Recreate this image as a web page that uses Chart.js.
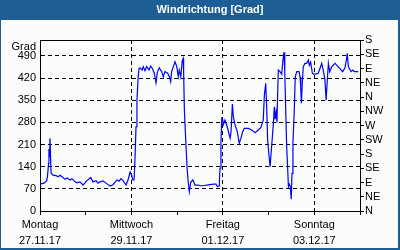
<!DOCTYPE html>
<html>
<head>
<meta charset="utf-8">
<title>Windrichtung</title>
<script src="https://cdn.jsdelivr.net/npm/chart.js@4/dist/chart.umd.min.js"></script>
<style>
    html, body { margin: 0; padding: 0; background: #fbfdfb; }
    #wrap { width: 400px; height: 250px; }
</style>
</head>
<body>
<div id="wrap"><canvas id="windChart" width="400" height="250"></canvas></div>
<script>
const chartTitle = 'Windrichtung [Grad]';
const unitLabel = 'Grad';

// hours since Montag 27.11.17 00:00
const hours = [
    0, 2.1, 3.5, 3.9, 4.5, 4.7, 5.0, 5.25, 5.8, 6.8, 8.4, 9.5, 10.5, 11.6, 13.1, 14.2, 15.8, 16.8, 17.9, 19.3,
    21, 22.6, 24.5, 26.6, 27.8, 29.4, 30.5, 31.5, 33.1, 34.7, 36.8, 38.3, 40.4, 41.5, 42.5, 43.6, 45.2, 46.2, 47.3, 48.1,
    48.7, 49.4, 49.9, 50.4, 50.9, 51.5, 52, 52.5, 53.6, 54.2, 55.1, 56, 57.2, 58.1, 59, 60, 60.9, 61.6, 62.6, 63.9,
    64.7, 65.6, 67, 67.9, 68.6, 69.1, 70, 70.9, 71.8, 72.6, 73.1, 73.9, 74.7, 75.2, 75.4, 75.8, 76.5, 77.2, 77.9, 78.4,
    79.1, 80.2, 81, 81.4, 83.1, 84.9, 87.5, 91, 92.4, 93.1, 94.1, 94.5, 95, 95.4, 95.9, 96.2, 97.1, 98.3, 99.8, 100.3,
    101, 101.5, 102.4, 103.6, 104.6, 105.5, 106.4, 107.3, 109.4, 111.1, 112.4, 112.9, 114.6, 116, 117.2, 117.8, 118.5, 119, 119.5, 120.2,
    120.8, 121.3, 122, 122.7, 123, 123.4, 123.9, 124.4, 125.1, 126, 126.9, 127.6, 128.1, 128.5, 129, 129.5, 130, 130.4, 130.9, 131.4,
    131.9, 132.3, 132.8, 133.5, 134, 134.8, 136, 136.5, 136.9, 137.2, 137.6, 138.2, 139.1, 140, 140.9, 141.4, 142.1, 143, 143.6, 144.4,
    146.1, 147.9, 148.7, 149.6, 150.2, 150.7, 151.4, 152.1, 153.1, 154.9, 156.6, 158.9, 160.1, 161, 161.3, 161.9, 163.3, 164.2, 165, 166.3,
    167.1
];

const degrees = [
    85, 88, 95, 108, 150, 196, 170, 230, 120, 113, 112, 108, 113, 108, 100, 104, 98, 102, 95, 89,
    92, 82, 95, 106, 92, 96, 88, 92, 95, 88, 79, 83, 98, 94, 102, 96, 82, 98, 123, 113,
    98, 98, 170, 266, 350, 419, 450, 452, 445, 456, 443, 456, 445, 458, 450, 435, 405, 438, 452, 440,
    424, 440, 435, 425, 408, 440, 456, 471, 456, 424, 445, 424, 475, 482, 440, 319, 224, 136, 87, 61,
    90, 98, 88, 82, 82, 79, 82, 85, 85, 77, 79, 135, 214, 293, 290, 272, 287, 266, 230, 250,
    338, 298, 272, 250, 214, 230, 250, 261, 261, 256, 250, 247, 256, 264, 287, 366, 403, 330, 224, 177,
    140, 180, 235, 290, 329, 290, 314, 280, 445, 440, 432, 480, 501, 440, 320, 203, 140, 77, 85, 77,
    37, 119, 214, 319, 424, 440, 440, 424, 390, 340, 390, 456, 466, 466, 477, 460, 470, 435, 432, 432,
    435, 466, 445, 414, 350, 400, 466, 440, 455, 466, 455, 440, 452, 482, 498, 455, 440, 445, 440, 440,
    440
];

const dayNames = ['Montag', 'Dienstag', 'Mittwoch', 'Donnerstag', 'Freitag', 'Samstag', 'Sonntag', 'Montag'];
const dayDates = ['27.11.17', '28.11.17', '29.11.17', '30.11.17', '01.12.17', '02.12.17', '03.12.17', '04.12.17'];
const gradTicks = [0, 70, 140, 210, 280, 350, 420, 490];
const compassTicks = ['N', 'NE', 'E', 'SE', 'S', 'SW', 'W', 'NW', 'N', 'NE', 'E', 'SE', 'S'];

const barColor = '#1d5e94';
const lineColor = '#0000ff';
const fontFamily = '"Liberation Sans", Arial, sans-serif';

const framePlugin = {
    id: 'frame',
    beforeDraw(chart) {
        const ctx = chart.ctx;
        ctx.save();
        ctx.fillStyle = '#fbfdfb';
        ctx.fillRect(0, 0, 400, 250);
        ctx.fillStyle = barColor;
        ctx.fillRect(0, 0, 400, 20);
        ctx.fillRect(0, 0, 1, 250);
        ctx.fillRect(398, 0, 2, 250);
        ctx.fillRect(0, 248, 400, 2);

        ctx.fillStyle = '#ffffff';
        ctx.font = 'bold 11px ' + fontFamily;
        ctx.textAlign = 'center';
        ctx.textBaseline = 'middle';
        ctx.fillText(chartTitle, 210, 10);

        ctx.fillStyle = '#000000';
        ctx.font = '11px ' + fontFamily;
        ctx.textAlign = 'right';
        ctx.fillText(unitLabel, 36, 47);
        ctx.restore();
    },
    afterDraw(chart) {
        const { ctx, chartArea } = chart;
        ctx.save();
        ctx.strokeStyle = '#000000';
        ctx.lineWidth = 1;
        ctx.beginPath();
        ctx.moveTo(chartArea.left, Math.round(chartArea.top) + 0.5);
        ctx.lineTo(chartArea.right, Math.round(chartArea.top) + 0.5);
        ctx.stroke();
        ctx.restore();
    }
};

function renderWindChart() {
    const points = hours.map((h, i) => ({ x: h, y: degrees[i] }));
    const ctx = document.getElementById('windChart').getContext('2d');

    new Chart(ctx, {
        type: 'line',
        data: {
            datasets: [{
                data: points,
                borderColor: lineColor,
                borderWidth: 1.2,
                pointRadius: 0,
                tension: 0,
                yAxisID: 'y'
            }]
        },
        options: {
            responsive: false,
            animation: false,
            devicePixelRatio: 1,
            layout: { padding: { top: 40, left: 0, right: 0, bottom: 0 } },
            plugins: {
                legend: { display: false },
                tooltip: { enabled: false }
            },
            scales: {
                x: {
                    type: 'linear',
                    min: 0,
                    max: 168,
                    afterBuildTicks: scale => {
                        scale.ticks = dayNames.map((d, i) => ({ value: i * 24 }));
                    },
                    afterFit: scale => { scale.height = 39; },
                    ticks: {
                        autoSkip: false,
                        maxRotation: 0,
                        padding: 2,
                        color: '#000',
                        font: { family: fontFamily, size: 11, lineHeight: '16px' },
                        callback: (value) => {
                            const i = Math.round(value / 24);
                            return i % 2 === 0 && i < 7 ? [dayNames[i], dayDates[i]] : '';
                        }
                    },
                    grid: {
                        color: c => (c.tick && c.tick.value % 48 === 0 && c.tick.value > 0 && c.tick.value < 168) ? '#000' : 'rgba(0,0,0,0)',
                        tickColor: '#000',
                        tickLength: 4,
                        tickBorderDash: [],
                        lineWidth: 1
                    },
                    border: { display: true, color: '#000', width: 1, dash: [4, 3] }
                },
                y: {
                    position: 'left',
                    min: 0,
                    max: 540,
                    afterBuildTicks: scale => {
                        scale.ticks = gradTicks.map(v => ({ value: v }));
                    },
                    afterFit: scale => { scale.width = 40; },
                    ticks: {
                        autoSkip: false,
                        padding: 4,
                        color: '#000',
                        font: { family: fontFamily, size: 11 }
                    },
                    grid: {
                        color: c => (c.tick && c.tick.value > 0) ? '#000' : 'rgba(0,0,0,0)',
                        drawTicks: false,
                        lineWidth: 1
                    },
                    border: { display: true, color: '#000', width: 1, dash: [4, 3] }
                },
                y2: {
                    position: 'right',
                    min: 0,
                    max: 540,
                    afterBuildTicks: scale => {
                        scale.ticks = compassTicks.map((t, i) => ({ value: i * 45 }));
                    },
                    afterFit: scale => { scale.width = 40; },
                    ticks: {
                        autoSkip: false,
                        padding: 1,
                        color: '#000',
                        font: { family: fontFamily, size: 11 },
                        callback: value => compassTicks[Math.round(value / 45)]
                    },
                    grid: {
                        drawOnChartArea: false,
                        color: '#000',
                        tickLength: 4,
                        lineWidth: 1
                    },
                    border: { display: true, color: '#000', width: 1 }
                }
            }
        },
        plugins: [framePlugin]
    });
}

renderWindChart();
</script>
</body>
</html>
